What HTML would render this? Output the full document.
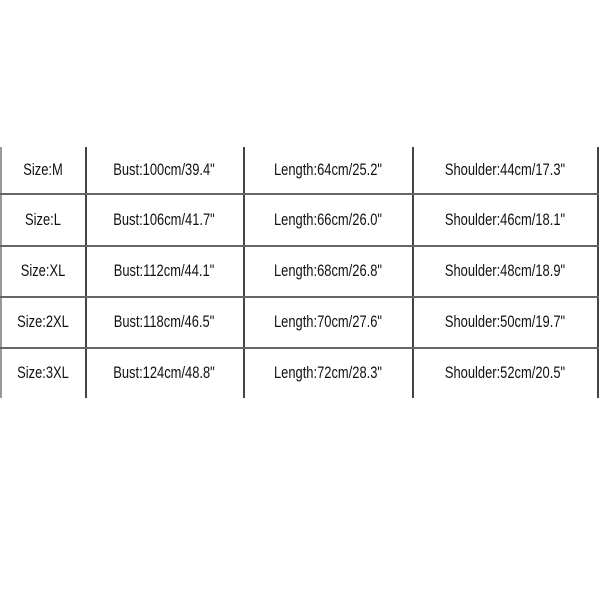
<!DOCTYPE html><html><head><style>
body{margin:0;width:600px;height:600px;background:#fff;position:relative;overflow:hidden;font-family:"Liberation Sans",sans-serif}
.v{position:absolute;top:147px;height:251px;width:1.5px;background:#444}
.h{position:absolute;left:0;width:599px;height:1.5px;background:#666}
.t{position:absolute;width:220px;text-align:center;font-size:17px;color:#111;transform:translateX(-50%) scaleX(0.76);line-height:20px}
</style></head><body>
<div class="v" style="left:0;background:#999"></div>
<div class="v" style="left:85px"></div>
<div class="v" style="left:243px"></div>
<div class="v" style="left:412px"></div>
<div class="v" style="left:597px"></div>
<div class="h" style="top:193px"></div>
<div class="h" style="top:245px"></div>
<div class="h" style="top:296px"></div>
<div class="h" style="top:347px"></div>
<div class="t" style="left:43px;top:160px">Size:M</div><div class="t" style="left:164px;top:160px">Bust:100cm/39.4"</div><div class="t" style="left:328px;top:160px">Length:64cm/25.2"</div><div class="t" style="left:505px;top:160px">Shoulder:44cm/17.3"</div>
<div class="t" style="left:43px;top:210px">Size:L</div><div class="t" style="left:164px;top:210px">Bust:106cm/41.7"</div><div class="t" style="left:328px;top:210px">Length:66cm/26.0"</div><div class="t" style="left:505px;top:210px">Shoulder:46cm/18.1"</div>
<div class="t" style="left:43px;top:261px">Size:XL</div><div class="t" style="left:164px;top:261px">Bust:112cm/44.1"</div><div class="t" style="left:328px;top:261px">Length:68cm/26.8"</div><div class="t" style="left:505px;top:261px">Shoulder:48cm/18.9"</div>
<div class="t" style="left:43px;top:312px">Size:2XL</div><div class="t" style="left:164px;top:312px">Bust:118cm/46.5"</div><div class="t" style="left:328px;top:312px">Length:70cm/27.6"</div><div class="t" style="left:505px;top:312px">Shoulder:50cm/19.7"</div>
<div class="t" style="left:43px;top:363px">Size:3XL</div><div class="t" style="left:164px;top:363px">Bust:124cm/48.8"</div><div class="t" style="left:328px;top:363px">Length:72cm/28.3"</div><div class="t" style="left:505px;top:363px">Shoulder:52cm/20.5"</div>
</body></html>
